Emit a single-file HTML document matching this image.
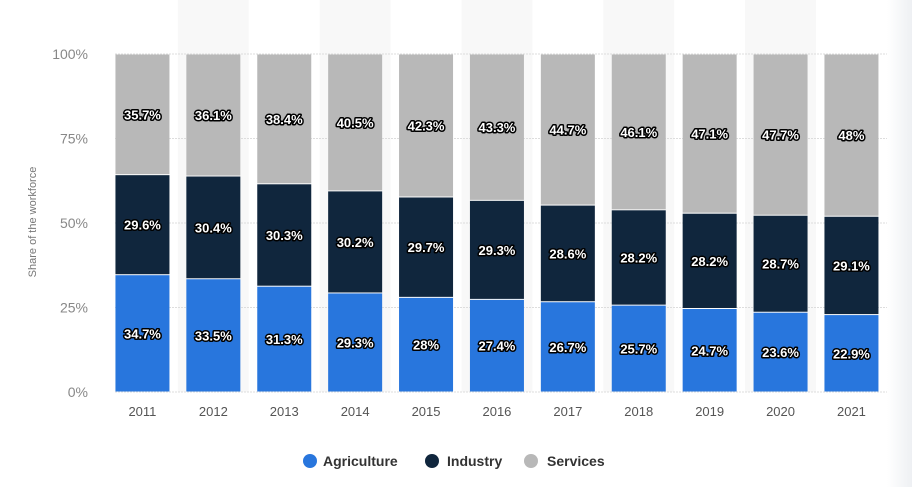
<!DOCTYPE html>
<html><head><meta charset="utf-8"><style>
body{margin:0;width:912px;height:487px;background:#fff;overflow:hidden;font-family:"Liberation Sans",sans-serif}
svg text{font-family:"Liberation Sans",sans-serif}
.lbl{font-weight:bold;font-size:13px;fill:#fff;paint-order:stroke;stroke:#000;stroke-width:3px;stroke-linejoin:round}
</style></head><body>
<svg id="c" width="912" height="487">
<defs><linearGradient id="sh" x1="0" x2="1"><stop offset="0" stop-color="#fff"/><stop offset="1" stop-color="#eef0f3"/></linearGradient></defs>
<rect x="887" y="0" width="25" height="487" fill="url(#sh)"/>
<g id="bands"></g><g id="grid"></g><g id="bars"></g><g id="labels"></g><g id="axis"></g>
<text transform="translate(36,222) rotate(-90)" text-anchor="middle" font-size="11" fill="#777">Share of the workforce</text>
<g>
<circle cx="310" cy="461" r="7" fill="#2876dd"/>
<text x="323" y="466" font-size="14" font-weight="bold" fill="#333">Agriculture</text>
<circle cx="432" cy="461" r="7" fill="#10263d"/>
<text x="447" y="466" font-size="14" font-weight="bold" fill="#333">Industry</text>
<circle cx="531" cy="461" r="7" fill="#b8b8b8"/>
<text x="547" y="466" font-size="14" font-weight="bold" fill="#333">Services</text>
</g>
</svg>
<script>
const years=["2011","2012","2013","2014","2015","2016","2017","2018","2019","2020","2021"];
const agriculture=[34.7,33.5,31.3,29.3,28,27.4,26.7,25.7,24.7,23.6,22.9];
const industry=[29.6,30.4,30.3,30.2,29.7,29.3,28.6,28.2,28.2,28.7,29.1];
const services=[35.7,36.1,38.4,40.5,42.3,43.3,44.7,46.1,47.1,47.7,48];
const yTicks=[0,25,50,75,100];
const NS="http://www.w3.org/2000/svg";
const x0=107,step=70.9,bw=54,yB=392,yT=54;
const xc=i=>x0+step*(i+0.5);
const y=v=>yB-(v/100)*(yB-yT);
function mk(tag,attrs,parent){const e=document.createElementNS(NS,tag);for(const k in attrs)e.setAttribute(k,attrs[k]);document.getElementById(parent).appendChild(e);return e;}
years.forEach((yr,i)=>{if(i%2===1){const b=mk('rect',{x:xc(i)-step/2,y:0,width:step,height:yB,fill:'#f8f8f8'},'bands');

}});
yTicks.forEach(t=>{const l=mk('line',{x1:x0+8,x2:887,y1:y(t),y2:y(t),stroke:'#ddd','stroke-dasharray':'2,1'},'grid');


const tx=mk('text',{x:88,y:y(t)+5,'text-anchor':'end','font-size':14,fill:'#888'},'axis');tx.textContent=t+'%';

});
const series=[["agriculture",agriculture,"#2876dd"],["industry",industry,"#10263d"],["services",services,"#b8b8b8"]];
years.forEach((yr,i)=>{
 const tot=agriculture[i]+industry[i]+services[i];let acc=0;
 series.forEach(([nm,arr,col])=>{
  const v=arr[i]/tot*100;const yt=y(acc+v),yb=y(acc);
  const r=mk('rect',{x:xc(i)-bw/2,y:yt+0.5,width:bw,height:Math.max(0,yb-yt-1),fill:col},'bars');
  
  
  const t=mk('text',{x:xc(i),y:(yt+yb)/2+5,'text-anchor':'middle',class:'lbl'},'labels');t.textContent=arr[i]+'%';
  
  
  acc+=v;});
 const xt=mk('text',{x:xc(i),y:416,'text-anchor':'middle','font-size':13,fill:'#555'},'axis');xt.textContent=yr;
 
 
});
</script>
</body></html>
